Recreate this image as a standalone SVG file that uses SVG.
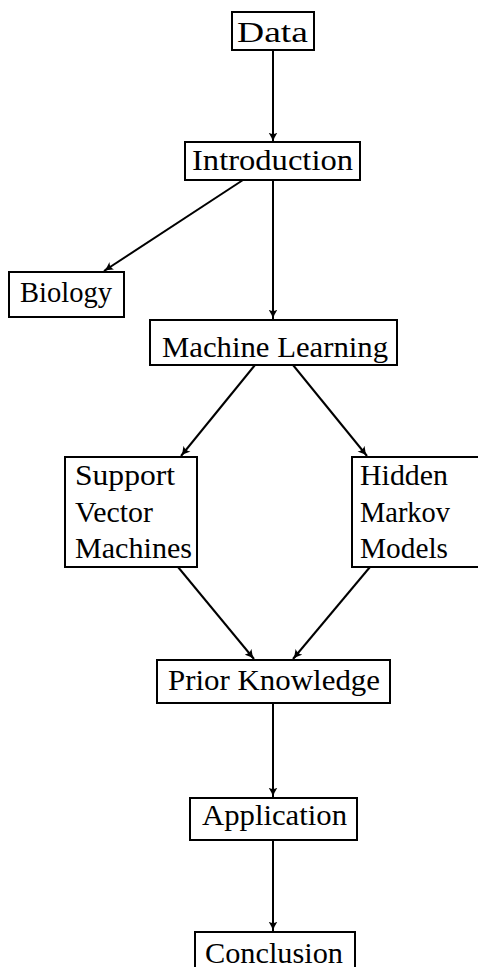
<svg xmlns="http://www.w3.org/2000/svg" width="478" height="967" viewBox="0 0 478 967">
<style>
.box{fill:#fff;stroke:#000;stroke-width:2}
.lbl{font-family:"Liberation Serif","DejaVu Serif",serif;font-size:29px;fill:#000}
.edge{stroke:#000;stroke-width:2;fill:none;marker-end:url(#ah)}
</style>
<defs>
<marker id="ah" viewBox="0 0 10 10" refX="9.5" refY="5" markerWidth="5" markerHeight="5" orient="auto" markerUnits="strokeWidth">
<path d="M0,0.5 Q5,4 10,5 Q5,6 0,9.5 Q3,5 0,0.5 Z" fill="#000"/>
</marker>
</defs>
<g id="connectors">
<line class="edge" x1="273" y1="50" x2="273" y2="142"/>
<line class="edge" x1="243" y1="180" x2="104" y2="271"/>
<line class="edge" x1="273" y1="180" x2="273" y2="319"/>
<line class="edge" x1="255" y1="365" x2="181" y2="456"/>
<line class="edge" x1="293" y1="365" x2="367" y2="456"/>
<line class="edge" x1="178" y1="567" x2="254" y2="659"/>
<line class="edge" x1="370" y1="567" x2="293" y2="659"/>
<line class="edge" x1="273" y1="703" x2="273" y2="797"/>
<line class="edge" x1="273" y1="840" x2="273" y2="931"/>
</g>
<g id="data"><rect class="box" x="232" y="12" width="82" height="38"/><text class="lbl" x="237" y="42" textLength="71" lengthAdjust="spacingAndGlyphs">Data</text></g>
<g id="introduction"><rect class="box" x="185" y="142" width="175" height="38"/><text class="lbl" x="192" y="170" textLength="161" lengthAdjust="spacingAndGlyphs">Introduction</text></g>
<g id="biology"><rect class="box" x="9" y="272" width="115" height="45"/><text class="lbl" x="20" y="302" textLength="92" lengthAdjust="spacingAndGlyphs">Biology</text></g>
<g id="machine-learning"><rect class="box" x="150" y="320" width="247" height="45"/><text class="lbl" x="162" y="357" textLength="226" lengthAdjust="spacingAndGlyphs">Machine Learning</text></g>
<g id="svm"><rect class="box" x="65" y="457" width="132" height="110"/>
<text class="lbl" x="75" y="485" textLength="100" lengthAdjust="spacingAndGlyphs">Support</text>
<text class="lbl" x="75" y="522" textLength="78" lengthAdjust="spacingAndGlyphs">Vector</text>
<text class="lbl" x="75" y="558" textLength="117" lengthAdjust="spacingAndGlyphs">Machines</text></g>
<g id="hmm"><rect class="box" x="352" y="457" width="130" height="110"/>
<text class="lbl" x="360" y="485" textLength="88" lengthAdjust="spacingAndGlyphs">Hidden</text>
<text class="lbl" x="360" y="522" textLength="90" lengthAdjust="spacingAndGlyphs">Markov</text>
<text class="lbl" x="360" y="558" textLength="88" lengthAdjust="spacingAndGlyphs">Models</text></g>
<g id="prior-knowledge"><rect class="box" x="157" y="660" width="233" height="43"/><text class="lbl" x="168" y="690" textLength="212" lengthAdjust="spacingAndGlyphs">Prior Knowledge</text></g>
<g id="application"><rect class="box" x="190" y="798" width="167" height="42"/><text class="lbl" x="202" y="825" textLength="145" lengthAdjust="spacingAndGlyphs">Application</text></g>
<g id="conclusion"><rect class="box" x="195" y="932" width="160" height="45"/><text class="lbl" x="205" y="963" textLength="138" lengthAdjust="spacingAndGlyphs">Conclusion</text></g>
</svg>
